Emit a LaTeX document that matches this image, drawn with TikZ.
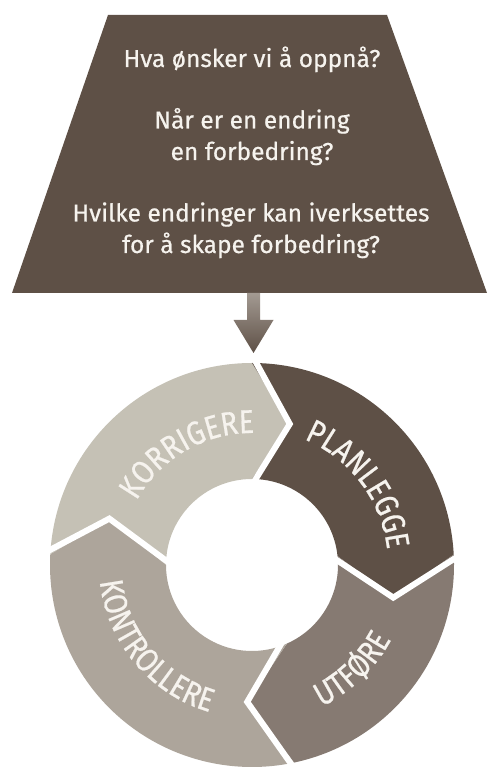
\documentclass[tikz,border=0pt]{standalone}
\usepackage{fontspec}
\usetikzlibrary{decorations.text}
\newfontfamily\askfont[FakeBold=0.6]{Fira Sans}
\newfontfamily\stepfont[FakeStretch=0.85, FakeBold=0.6]{Fira Sans}
\newcommand{\cyclefont}{\stepfont\fontsize{33}{38}\selectfont}
\definecolor{plancol}{HTML}{5E5046}
\definecolor{docol}{HTML}{867A72}
\definecolor{checkcol}{HTML}{ADA59B}
\definecolor{actcol}{HTML}{C5C1B5}
\definecolor{arrowtop}{HTML}{A39A92}
\definecolor{paper}{HTML}{F6F3EE}

\begin{document}
\begin{tikzpicture}[x=1pt, y=1pt, inner sep=0pt]
	\tikzstyle{every node}=[align=center, text=paper, font=\askfont\fontsize{24.5}{31.5}\selectfont]
	\tikzstyle{gap}=[draw=white, line width=6pt]
	\tikzstyle{ringtext}=[decorate, decoration={text along path, text align=center, text color=paper}]
		\useasboundingbox (0, 0) rectangle (487, 767);

		\fill[plancol] (12, 474) -- (108, 752) -- (387, 752) -- (487, 474) -- cycle;
		\node[anchor=base] (what) at (252, 700) {Hva ønsker vi å oppnå?};
		\node[anchor=base] (when) at (252, 607) {Når er en endring\\en forbedring?};
		\node[anchor=base] (which) at (251, 514) {Hvilke endringer kan iverksettes\\for å skape forbedring?};

		\coordinate (goal) at (253.5, 474);
		\coordinate (hub) at (252, 202);
		\shade[top color=arrowtop, bottom color=plancol, shift={(goal)}] (-6.5, 0) -- (6.5, 0) -- (6.5, -27) -- (20, -27) -- (0, -60) -- (-20, -27) -- (-6.5, -27) -- cycle;

		\begin{scope}[shift={(hub)}]
			\fill[actcol] (177:202) arc[start angle=177, end angle=90, radius=202] -- (75:146) -- (90:86) arc[start angle=90, end angle=180, radius=86] -- (162:150) -- cycle;
			\fill[plancol] (90:202) arc[start angle=90, end angle=3, radius=202] -- (-13:145) -- (6:86) arc[start angle=6, end angle=90, radius=86] -- (75:146) -- cycle;
			\fill[docol] (3:202) arc[start angle=3, end angle=-78, radius=202] -- (-92:137) -- (-66:86) arc[start angle=-66, end angle=6, radius=86] -- (-13:145) -- cycle;
			\fill[checkcol] (-78:202) arc[start angle=-78, end angle=-183, radius=202] -- (-198:150) -- (-180:86) arc[start angle=-180, end angle=-66, radius=86] -- (-92:137) -- cycle;

			\draw[gap] (90:80) -- (75:146) -- (90:210);
			\draw[gap] (6:80) -- (-13:145) -- (3:210);
			\draw[gap] (-66:80) -- (-92:137) -- (-78:210);
			\draw[gap] (180:80) -- (162:150) -- (177:210);

			\path[ringtext, decoration={text={|\cyclefont|KORRIGERE}}] (160:132) arc[start angle=160, end angle=80, radius=132];
			\path[ringtext, decoration={text={|\cyclefont|PLANLEGGE}}] (77:136) arc[start angle=77, end angle=-3, radius=136];
			\path[ringtext, decoration={text={|\cyclefont|UTFØRE}}] (-86:158) arc[start angle=-86, end angle=-6, radius=158];
			\path[ringtext, decoration={text={|\cyclefont|KONTROLLERE}}] (175:153) arc[start angle=175, end angle=265, radius=153];
		\end{scope}
	\end{tikzpicture}
\end{document}
